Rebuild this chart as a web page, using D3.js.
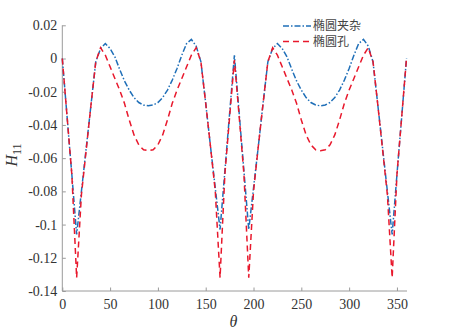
<html>
<head>
    <script src="https://d3js.org/d3.v7.min.js"></script>
    <style>
        body { margin: 0; background: #fff; }
    </style>
</head>
<body>
<svg width="449" height="331"></svg>
<script>
    // theta in degrees, 5 degree steps
    const theta = d3.range(0, 361, 5);

    // 椭圆夹杂 (blue, dash-dot)
    const inclusion = [
        0, -0.035, -0.070, -0.106, -0.080, -0.054, -0.028, -0.002, 0.006,
        0.009, 0.006, 0.001, -0.0065, -0.0135, -0.019, -0.0235, -0.0265, -0.028,
        -0.0285, -0.028, -0.0265, -0.0235, -0.019, -0.013, -0.006, 0.002, 0.009,
        0.0115, 0.0075, -0.002, -0.027, -0.053, -0.078, -0.103, -0.068, -0.033,
        0.002,
        -0.033, -0.068, -0.103, -0.078, -0.053, -0.027, -0.002, 0.006,
        0.009, 0.006, 0.001, -0.0065, -0.0135, -0.019, -0.0235, -0.0265, -0.028,
        -0.0285, -0.028, -0.0265, -0.0235, -0.019, -0.013, -0.006, 0.002, 0.009,
        0.0115, 0.0075, -0.002, -0.028, -0.054, -0.080, -0.106, -0.070, -0.035,
        0
    ];

    // 椭圆孔 (red, dashed)
    const hole = [
        0, -0.035, -0.070, -0.132, -0.082, -0.055, -0.028, -0.002, 0.0065,
        0.002, -0.005, -0.012, -0.019, -0.027, -0.037, -0.046, -0.052, -0.055,
        -0.0555, -0.055, -0.052, -0.046, -0.037, -0.027, -0.019, -0.012, -0.005,
        0.002, 0.0065, -0.002, -0.027, -0.053, -0.080, -0.132, -0.070, -0.035,
        -0.001,
        -0.035, -0.070, -0.132, -0.080, -0.053, -0.027, -0.002, 0.0065,
        0.002, -0.005, -0.012, -0.019, -0.027, -0.037, -0.046, -0.052, -0.055,
        -0.0555, -0.055, -0.052, -0.046, -0.037, -0.027, -0.019, -0.012, -0.005,
        0.002, 0.0065, -0.002, -0.028, -0.055, -0.082, -0.132, -0.070, -0.035,
        0
    ];

    const xTicks = [0, 50, 100, 150, 200, 250, 300, 350];
    const yTicks = [0.02, 0, -0.02, -0.04, -0.06, -0.08, -0.1, -0.12, -0.14];
    const seriesNames = ["椭圆夹杂", "椭圆孔"];

    const svg = d3.select("svg");
    const mLeft = 62.3, mRight = 406.5, mTop = 25.3, mBottom = 291;

    const xScale = d3.scaleLinear().domain([0, 360]).range([mLeft, mRight]);
    const yScale = d3.scaleLinear().domain([-0.14, 0.02]).range([mBottom, mTop]);

    const axisColor = "#9a9a9a";
    const textColor = "#333";
    const serif = "'Liberation Serif', 'Times New Roman', serif";

    // axes, ticks pointing inward
    const xAxis = svg.append("g")
        .attr("transform", `translate(0,${mBottom})`)
        .call(d3.axisBottom(xScale).tickValues(xTicks).tickSizeInner(-3.5).tickSizeOuter(0).tickPadding(8).tickFormat(d3.format("d")));
    const yAxis = svg.append("g")
        .attr("transform", `translate(${mLeft},0)`)
        .call(d3.axisLeft(yScale).tickValues(yTicks).tickSizeInner(-3.5).tickSizeOuter(0).tickPadding(5).tickFormat(d => d === 0 ? "0" : String(d)));

    [xAxis, yAxis].forEach(ax => {
        ax.select(".domain").attr("stroke", axisColor);
        ax.selectAll(".tick line").attr("stroke", axisColor);
        ax.selectAll("text").attr("fill", textColor).style("font-family", serif).style("font-size", "14px");
    });
    xAxis.select(".domain").attr("d", `M${mLeft},0H${mRight + 0.5}`);
    yAxis.select(".domain").attr("d", `M0,${mBottom}V${mTop}`);

    // axis labels
    svg.append("text")
        .attr("x", (mLeft + mRight) / 2 - 1)
        .attr("y", 327)
        .attr("text-anchor", "middle")
        .attr("fill", textColor)
        .style("font-family", serif)
        .style("font-style", "italic")
        .style("font-size", "16px")
        .text("θ");

    const yl = svg.append("text")
        .attr("transform", `translate(17,155) rotate(-90)`)
        .attr("text-anchor", "middle")
        .attr("fill", textColor)
        .style("font-family", serif)
        .style("font-size", "16px");
    yl.append("tspan").style("font-style", "italic").text("H");
    yl.append("tspan").attr("dy", 4).style("font-size", "12px").text("11");

    const line = d3.line()
        .x((d, i) => xScale(theta[i]))
        .y(d => yScale(d));

    svg.append("path")
        .datum(inclusion)
        .attr("fill", "none")
        .attr("stroke", "#1f6fb8")
        .attr("stroke-width", 1.5)
        .attr("stroke-dasharray", "6,2,1.5,2")
        .attr("d", line);

    svg.append("path")
        .datum(hole)
        .attr("fill", "none")
        .attr("stroke", "#e8182c")
        .attr("stroke-width", 1.5)
        .attr("stroke-dasharray", "6,4")
        .attr("d", line);

    // legend
    const legendStyles = [
        { color: "#1f6fb8", dash: "6,2,1.5,2" },
        { color: "#e8182c", dash: "6,4" }
    ];
    const legend = svg.append("g");
    seriesNames.forEach((name, i) => {
        const y = 26 + i * 15.5;
        legend.append("line")
            .attr("x1", 283).attr("x2", 311)
            .attr("y1", y).attr("y2", y)
            .attr("stroke", legendStyles[i].color)
            .attr("stroke-width", 1.5)
            .attr("stroke-dasharray", legendStyles[i].dash);
        legend.append("text")
            .attr("x", 313)
            .attr("y", y + 4.3)
            .attr("fill", "#444")
            .style("font-family", "'Noto Sans CJK SC', sans-serif")
            .style("font-size", "12px")
            .text(name);
    });
</script>
</body>
</html>
